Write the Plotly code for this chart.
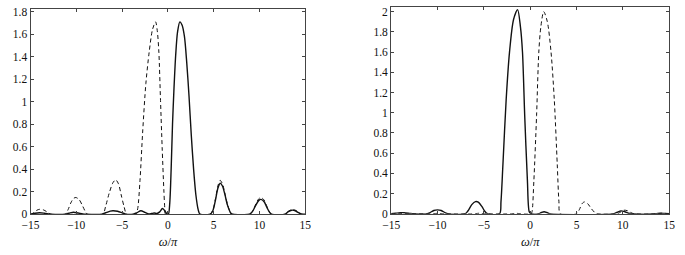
import plotly.graph_objects as go
from plotly.subplots import make_subplots

# ---- Left panel data ----
left_solid_x = [-15, -14.5, -14, -13.5, -13, -12.8, -11.2, -10.8, -10.3, -9.8, -9.3, -9.0,
                -7.2, -6.8, -6.3, -6.0, -5.5, -5.0, -4.6, -3.8, -3.4, -2.95, -2.5, -2.1,
                -1.8, -1.5, -1.2, -0.9, -0.6, -0.35, -0.1, 0.05, 0.2, 0.35, 0.5, 0.65,
                0.85, 1.05, 1.3, 1.55, 1.8, 2.05, 2.3, 2.55, 2.8, 3.05, 3.3, 3.5, 4.6,
                4.9, 5.2, 5.45, 5.7, 5.95, 6.2, 6.5, 6.85, 7.0, 8.9, 9.2, 9.6, 9.9,
                10.15, 10.5, 10.8, 11.1, 11.3, 12.8, 13.1, 13.5, 13.9, 14.3, 14.6, 15]
left_solid_y = [0, 0.008, 0.012, 0.008, 0.002, 0, 0, 0.008, 0.017, 0.01, 0.002, 0,
                0, 0.012, 0.027, 0.03, 0.026, 0.012, 0, 0, 0.012, 0.03, 0.015, 0.002,
                0.005, 0.01, 0.005, 0.02, 0.05, 0.03, 0.003, 0.0, 0.1, 0.4, 0.8, 1.1,
                1.42, 1.62, 1.71, 1.68, 1.58, 1.35, 1.05, 0.7, 0.4, 0.17, 0.04, 0, 0,
                0.03, 0.13, 0.23, 0.275, 0.25, 0.18, 0.08, 0.01, 0, 0, 0.02, 0.08, 0.12,
                0.131, 0.11, 0.06, 0.015, 0, 0, 0.02, 0.035, 0.03, 0.01, 0, 0]

left_dash_x = [-15, -14.9, -14.6, -14.3, -14.0, -13.6, -13.2, -12.8, -11.2, -10.9, -10.6,
               -10.3, -10.05, -9.7, -9.3, -9.0, -8.8, -7.1, -6.8, -6.4, -6.0, -5.7, -5.4,
               -5.1, -4.8, -4.5, -3.5, -3.3, -3.05, -2.76, -2.41, -2.05, -1.69, -1.35,
               -1.15, -0.99, -0.81, -0.63, -0.45, -0.34, -0.25, 4.6, 4.9, 5.2, 5.45, 5.7,
               5.95, 6.2, 6.5, 6.85, 7.0, 8.9, 9.2, 9.6, 9.9, 10.15, 10.5, 10.8, 11.1,
               11.3, 12.8, 13.1, 13.5, 13.9, 14.3, 14.6, 15]
left_dash_y = [0.005, 0, 0.015, 0.035, 0.043, 0.038, 0.02, 0, 0, 0.04, 0.1,
               0.14, 0.148, 0.13, 0.07, 0.02, 0, 0, 0.07, 0.19, 0.28, 0.305, 0.27,
               0.17, 0.07, 0, 0, 0.05, 0.3, 0.73, 1.16, 1.44, 1.64, 1.71,
               1.62, 1.44, 1.01, 0.59, 0.22, 0.05, 0, 0, 0.035, 0.14, 0.25, 0.30,
               0.27, 0.19, 0.085, 0.01, 0, 0, 0.022, 0.09, 0.135, 0.148, 0.125, 0.07, 0.017,
               0, 0, 0.022, 0.04, 0.035, 0.012, 0, 0]

# ---- Right panel data ----
right_solid_x = [-15, -14.5, -14, -13.6, -13, -12.6, -11.1, -10.8, -10.4, -10.0, -9.6,
                 -9.2, -8.9, -7.0, -6.7, -6.3, -5.9, -5.6, -5.2, -4.9, -4.6, -3.3, -3.15,
                 -2.94, -2.59, -2.23, -1.8, -1.36, -1.05, -0.83, -0.59, -0.3, -0.1, 0.1,
                 0.9, 1.2, 1.5, 1.8, 2.1, 9.0, 9.4, 9.8, 10.2, 10.6, 11.0, 13.5, 14.0,
                 14.5, 15]
right_solid_y = [0, 0.005, 0.01, 0.01, 0.004, 0, 0, 0.012, 0.032, 0.038, 0.032,
                 0.012, 0, 0, 0.03, 0.09, 0.12, 0.115, 0.07, 0.025, 0, 0, 0.12,
                 0.49, 1.13, 1.6, 1.92, 2.02, 1.85, 1.6, 0.97, 0.33, 0.02, 0,
                 0, 0.012, 0.02, 0.012, 0, 0, 0.015, 0.028, 0.02, 0.005, 0, 0, 0.005,
                 0.003, 0]

right_dash_x = [-15, -14, -13, -10.5, -10, -9.5, -6, -5.5, -5, -2, -1.5, -1, 0.1, 0.2, 0.4,
                0.69, 0.93, 1.15, 1.46, 1.85, 2.25, 2.6, 2.92, 3.1, 3.25, 5.0, 5.3, 5.6,
                5.85, 6.2, 6.6, 7.0, 7.3, 9.4, 9.8, 10.1, 10.5, 10.9, 11.2, 13.8, 14.2,
                14.6, 15]
right_dash_y = [0, 0.003, 0, 0, 0.004, 0, 0, 0.005, 0, 0, 0.004, 0, 0, 0.02, 0.33,
                0.97, 1.6, 1.85, 2.0, 1.9, 1.6, 1.13, 0.49, 0.12, 0, 0, 0.04, 0.1,
                0.117, 0.1, 0.05, 0.01, 0, 0, 0.02, 0.035, 0.03, 0.01, 0, 0, 0.005,
                0.003, 0]

x_ticks = [-15, -10, -5, 0, 5, 10, 15]
left_y_ticks = [0, 0.2, 0.4, 0.6, 0.8, 1, 1.2, 1.4, 1.6, 1.8]
right_y_ticks = [0, 0.2, 0.4, 0.6, 0.8, 1, 1.2, 1.4, 1.6, 1.8, 2]

FONT = "Liberation Serif"
INK = "#111111"

fig = make_subplots(rows=1, cols=2)

def add(x, y, col, dashed):
    fig.add_trace(go.Scatter(
        x=x, y=y, mode="lines",
        line=dict(color=INK, width=1.0 if dashed else 1.4,
                  dash="4px,3px" if dashed else "solid",
                  shape="spline", smoothing=0.8),
        showlegend=False, hoverinfo="skip"), row=1, col=col)

add(left_dash_x, left_dash_y, 1, True)
add(left_solid_x, left_solid_y, 1, False)
add(right_dash_x, right_dash_y, 2, True)
add(right_solid_x, right_solid_y, 2, False)

axis_common = dict(showgrid=False, zeroline=False, showline=True, mirror="ticks",
                   linecolor="#444444", linewidth=1, ticks="inside", ticklen=3,
                   tickcolor="#444444", tickfont=dict(family=FONT, size=11.5, color=INK))

fig.update_xaxes(**axis_common, range=[-15, 15], tickvals=x_ticks,
                 title=dict(text="<i>ω</i>/<i>π</i>", font=dict(family=FONT, size=12.5, color=INK),
                            standoff=7))
fig.update_yaxes(**axis_common)

fig.update_layout(
    width=685, height=255,
    margin=dict(l=0, r=0, t=0, b=0),
    paper_bgcolor="white", plot_bgcolor="white",
    font=dict(family=FONT),
    xaxis=dict(domain=[22/685, 303/685]),
    xaxis2=dict(domain=[390.7/685, 675/685]),
    yaxis=dict(domain=[(255-218.7)/255, (255-5.7)/255], range=[0, 1.82],
               tickvals=left_y_ticks),
    yaxis2=dict(domain=[(255-218.3)/255, (255-2.7)/255], range=[0, 2.05],
                tickvals=right_y_ticks),
)

fig.write_html("out.html", config={"displayModeBar": False, "staticPlot": True})

# remove the browser's default page margin so the figure sits at the window origin
with open("out.html", "r", encoding="utf-8") as f:
    html = f.read()
html = html.replace("<head>", "<head><style>html,body{margin:0;padding:0;overflow:hidden;}</style>", 1)
with open("out.html", "w", encoding="utf-8") as f:
    f.write(html)
